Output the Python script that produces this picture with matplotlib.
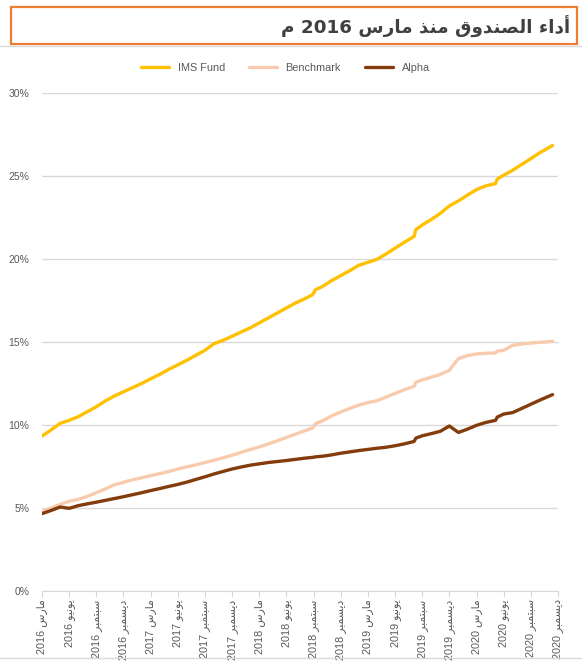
"""
Fund performance since March 2016: IMS Fund vs benchmark, plus alpha.
Saves out.png (582x661).
"""

import matplotlib
matplotlib.use("Agg")
import matplotlib.pyplot as plt
from matplotlib.patches import Rectangle
from matplotlib.lines import Line2D
from matplotlib.ticker import FuncFormatter

# months elapsed since March 2016 (extra points sit on the small jumps)
month_offset = [0, 1, 2, 3, 4, 5, 6, 7, 8, 9,
                10, 11, 12, 13, 14, 15, 16, 17, 18, 19,
                20, 21, 22, 23, 24, 25, 26, 27, 28, 29,
                29.9, 30.2, 31, 32, 33, 34, 35, 36, 37, 38,
                39, 40, 41.1, 41.3, 42, 43, 44, 45, 46, 47,
                48, 49, 50.1, 50.3, 51, 52, 53, 54, 55, 56.4]

ims_fund = [9.33, 9.70, 10.10, 10.28, 10.50, 10.80, 11.10, 11.45, 11.75, 12.00,
            12.25, 12.50, 12.78, 13.05, 13.35, 13.62, 13.90, 14.20, 14.50, 14.90,
            15.10, 15.35, 15.60, 15.85, 16.15, 16.45, 16.75, 17.05, 17.35, 17.60,
            17.85, 18.15, 18.35, 18.70, 19.00, 19.30, 19.62, 19.80, 19.98, 20.30,
            20.65, 21.00, 21.36, 21.77, 22.05, 22.38, 22.75, 23.20, 23.50, 23.85,
            24.18, 24.40, 24.54, 24.82, 25.05, 25.35, 25.70, 26.05, 26.40, 26.84]

benchmark = [4.80, 5.00, 5.22, 5.40, 5.52, 5.70, 5.92, 6.15, 6.40, 6.55,
             6.70, 6.82, 6.95, 7.07, 7.20, 7.35, 7.48, 7.60, 7.74, 7.88,
             8.02, 8.18, 8.35, 8.52, 8.68, 8.86, 9.05, 9.25, 9.45, 9.65,
             9.82, 10.08, 10.25, 10.55, 10.78, 11.00, 11.20, 11.35, 11.46, 11.68,
             11.90, 12.12, 12.33, 12.57, 12.72, 12.88, 13.05, 13.30, 14.00, 14.18,
             14.28, 14.32, 14.34, 14.45, 14.50, 14.80, 14.88, 14.94, 14.98, 15.04]

alpha = [4.66, 4.85, 5.06, 4.98, 5.14, 5.25, 5.35, 5.46, 5.57, 5.68,
         5.80, 5.92, 6.05, 6.17, 6.30, 6.42, 6.56, 6.72, 6.88, 7.05,
         7.20, 7.35, 7.47, 7.58, 7.66, 7.74, 7.80, 7.86, 7.93, 8.00,
         8.05, 8.08, 8.12, 8.20, 8.30, 8.38, 8.46, 8.53, 8.60, 8.66,
         8.75, 8.86, 9.01, 9.21, 9.35, 9.48, 9.62, 9.94, 9.55, 9.75,
         9.98, 10.15, 10.28, 10.48, 10.66, 10.75, 11.00, 11.25, 11.50, 11.83]

tick_months = ["مارس", "يونيو", "سبتمبر", "ديسمبر"]
tick_years = [2016, 2017, 2018, 2019, 2020]
title_text = "أداء الصندوق منذ مارس 2016 م"
series_names = ["IMS Fund", "Benchmark", "Alpha"]
y_ticks = [0, 5, 10, 15, 20, 25, 30]

# Arabic presentation forms: (isolated, final, initial, medial)
# matplotlib does no Arabic shaping, so the letters are joined by hand.
AR_FORMS = {
    "\u0621": ("\uFE80", None, None, None),
    "\u0623": ("\uFE83", "\uFE84", None, None),
    "\u0627": ("\uFE8D", "\uFE8E", None, None),
    "\u0628": ("\uFE8F", "\uFE90", "\uFE91", "\uFE92"),
    "\u062A": ("\uFE95", "\uFE96", "\uFE97", "\uFE98"),
    "\u062F": ("\uFEA9", "\uFEAA", None, None),
    "\u0630": ("\uFEAB", "\uFEAC", None, None),
    "\u0631": ("\uFEAD", "\uFEAE", None, None),
    "\u0633": ("\uFEB1", "\uFEB2", "\uFEB3", "\uFEB4"),
    "\u0635": ("\uFEB9", "\uFEBA", "\uFEBB", "\uFEBC"),
    "\u0642": ("\uFED5", "\uFED6", "\uFED7", "\uFED8"),
    "\u0644": ("\uFEDD", "\uFEDE", "\uFEDF", "\uFEE0"),
    "\u0645": ("\uFEE1", "\uFEE2", "\uFEE3", "\uFEE4"),
    "\u0646": ("\uFEE5", "\uFEE6", "\uFEE7", "\uFEE8"),
    "\u0648": ("\uFEED", "\uFEEE", None, None),
    "\u064A": ("\uFEF1", "\uFEF2", "\uFEF3", "\uFEF4"),
}


def shape_word(word):
    out = []
    for i, c in enumerate(word):
        if c not in AR_FORMS:
            out.append(c)
            continue
        forms = AR_FORMS[c]
        prev_joins = i > 0 and word[i - 1] in AR_FORMS and AR_FORMS[word[i - 1]][2] is not None
        next_joins = (i < len(word) - 1 and word[i + 1] in AR_FORMS
                      and forms[2] is not None)
        if prev_joins and next_joins:
            f = forms[3]
        elif prev_joins:
            f = forms[1]
        elif next_joins:
            f = forms[2]
        else:
            f = forms[0]
        out.append(f or forms[0])
    return "".join(out)


def rtl(text):
    """Shape Arabic words and lay the line out right-to-left."""
    words = []
    for w in text.split(" "):
        if any(c in AR_FORMS for c in w):
            words.append(shape_word(w)[::-1])
        else:
            words.append(w)
    return " ".join(words[::-1])


plt.rcParams["font.family"] = ["Liberation Sans", "DejaVu Sans"]

fig = plt.figure(figsize=(5.82, 6.61), dpi=100)
ax = fig.add_axes([42 / 582, 1 - 591 / 661, 516 / 582, 498 / 661])

colors = ["#FFC000", "#F8CBAD", "#843C0C"]
for vals, name, col in zip([ims_fund, benchmark, alpha], series_names, colors):
    ax.plot(month_offset, vals, color=col, linewidth=2.4, label=name,
            solid_capstyle="round", solid_joinstyle="round")

ax.set_xlim(0, 57)
ax.set_ylim(0, 30)
ax.set_yticks(y_ticks)
ax.yaxis.set_major_formatter(FuncFormatter(lambda v, _: f"{v:.0f}%"))
ax.grid(axis="y", color="#D9D9D9", linewidth=1)
ax.set_axisbelow(True)

tick_labels = [rtl(f"{m} {y}") for y in tick_years for m in tick_months]
ax.set_xticks(range(0, 3 * len(tick_labels), 3))
ax.set_xticklabels(tick_labels, rotation=90, fontsize=7.8, color="#595959",
                   family=["Liberation Sans", "DejaVu Sans"])

for side in ["top", "right", "left"]:
    ax.spines[side].set_visible(False)
ax.spines["bottom"].set_color("#D9D9D9")
ax.tick_params(axis="x", length=4, color="#D9D9D9", pad=2)
ax.tick_params(axis="y", length=0, labelsize=7.5, labelcolor="#595959", pad=9)

fig.legend(loc="center", bbox_to_anchor=(0.49, 1 - 68 / 661), ncol=3,
           frameon=False, fontsize=7.8, handlelength=2.6, columnspacing=2.2,
           labelcolor="#595959")

# title box
fig.patches.append(Rectangle((11 / 582, 1 - 44 / 661), 566 / 582, 37 / 661,
                             transform=fig.transFigure, fill=False,
                             edgecolor="#ED7D31", linewidth=1.6))
fig.text(570 / 582, 1 - 27 / 661, rtl(title_text), ha="right", va="center",
         fontsize=13.2, fontweight="bold", color="#404040",
         family=["DejaVu Sans"])
fig.lines.append(Line2D([0, 1], [1 - 46 / 661, 1 - 46 / 661],
                        transform=fig.transFigure, color="#D9D9D9", linewidth=1))
fig.lines.append(Line2D([0, 1], [1 - 658 / 661, 1 - 658 / 661],
                        transform=fig.transFigure, color="#D9D9D9", linewidth=1))

fig.savefig("out.png", dpi=100)
